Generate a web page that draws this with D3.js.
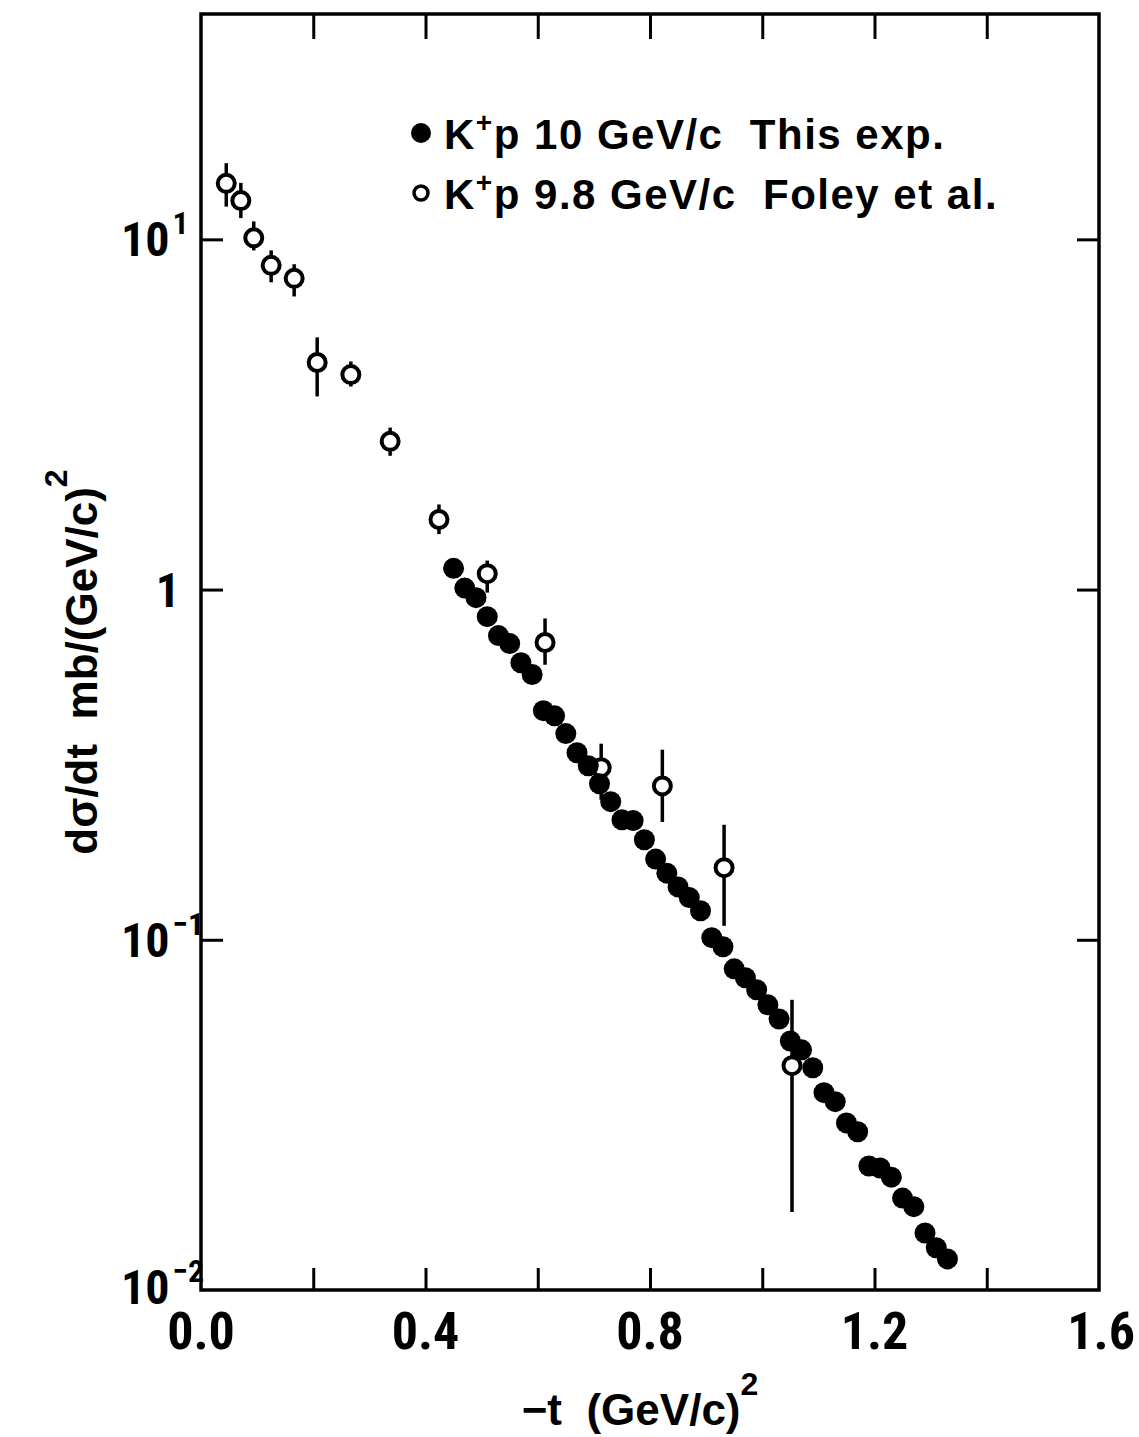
<!DOCTYPE html>
<html><head><meta charset="utf-8">
<script src="https://cdn.jsdelivr.net/npm/d3@7"></script>
<style>
html,body{margin:0;padding:0;background:#fff;}
svg{display:block;}
text{fill:#000;white-space:pre;}
</style></head>
<body>
<svg id="chart" width="1139" height="1437"></svg>
<script>
// Filled points: K+p 10 GeV/c (This exp.)
const thisT = [0.45,0.47,0.49,0.51,0.53,0.55,0.57,0.59,0.61,0.63,0.65,0.67,0.69,0.71,0.73,0.75,0.77,0.79,0.81,0.83,0.85,0.87,0.89,0.91,0.93,0.95,0.97,0.99,1.01,1.03,1.05,1.07,1.09,1.11,1.13,1.15,1.17,1.19,1.21,1.23,1.25,1.27,1.29,1.31,1.33];
const thisV = [1.15,1.01,0.948,0.837,0.739,0.701,0.618,0.572,0.451,0.436,0.388,0.342,0.314,0.279,0.248,0.220,0.219,0.193,0.170,0.155,0.1416,0.132,0.121,0.1014,0.0955,0.0826,0.0779,0.0720,0.0652,0.0594,0.0514,0.0485,0.0431,0.0366,0.0345,0.0300,0.0283,0.0226,0.0223,0.0210,0.0183,0.0173,0.01455,0.0132,0.01227];
// Open points: K+p 9.8 GeV/c (Foley et al.)
const foleyT  = [0.045,0.071,0.094,0.125,0.166,0.207,0.267,0.337,0.424,0.51,0.613,0.713,0.822,0.932,1.053];
const foleyV  = [14.45,12.9,10.1,8.43,7.74,4.45,4.11,2.65,1.585,1.11,0.706,0.31,0.275,0.1607,0.0437];
const foleyHi = [16.5,14.5,11.25,9.3,8.49,5.25,4.48,2.90,1.75,1.21,0.827,0.363,0.349,0.213,0.0674];
const foleyLo = [12.4,11.5,9.3,7.54,6.87,3.56,3.80,2.41,1.44,0.98,0.61,0.251,0.217,0.1096,0.0167];

const xTicks = [0.2,0.4,0.6,0.8,1.0,1.2,1.4];
const xLabels = [0.0,0.4,0.8,1.2,1.6];
const yTicks = [10,1,0.1];
const yLabels = [{v:10,base:"10",exp:"1"},{v:1,base:"1",exp:""},{v:0.1,base:"10",exp:"−1"},{v:0.01,base:"10",exp:"−2"}];
const legendItems = [{filled:true,label:"p 10 GeV/c  This exp."},{filled:false,label:"p 9.8 GeV/c  Foley et al."}];

const svg = d3.select("#chart");
const L=201,R=1099,T=14,B=1290;
const x = d3.scaleLinear().domain([0,1.6]).range([L,R]);
const y = d3.scaleLog().domain([0.01,44]).range([B,T]);
const numFont = "'Liberation Sans Narrow','Arial Narrow','Roboto Condensed',sans-serif";
const txtFont = "'Liberation Sans','Arial',sans-serif";

// frame
svg.append("rect").attr("x",L).attr("y",T).attr("width",R-L).attr("height",B-T)
  .attr("fill","none").attr("stroke","#000").attr("stroke-width",3.5);

// ticks using d3 axes (inward)
const axB = d3.axisBottom(x).tickValues(xTicks).tickSizeInner(-22).tickSizeOuter(0).tickFormat("");
const axT = d3.axisTop(x).tickValues(xTicks).tickSizeInner(-25).tickSizeOuter(0).tickFormat("");
const axL = d3.axisLeft(y).tickValues(yTicks).tickSizeInner(-22).tickSizeOuter(0).tickFormat("");
const axR = d3.axisRight(y).tickValues(yTicks).tickSizeInner(-22).tickSizeOuter(0).tickFormat("");
[[axB,`translate(0,${B})`],[axT,`translate(0,${T})`],[axL,`translate(${L},0)`],[axR,`translate(${R},0)`]].forEach(([a,tr])=>{
  const g = svg.append("g").attr("transform",tr).call(a);
  g.select(".domain").remove();
  g.selectAll("line").attr("stroke","#000").attr("stroke-width",3);
});

// x tick labels
svg.append("g").selectAll("text").data(xLabels).join("text")
  .attr("x",d=>d===1.6? 1135 : x(d)).attr("y",1349)
  .attr("text-anchor",d=>d===1.6?"end":"middle").attr("font-family",numFont).attr("font-weight","bold").attr("font-size",52)
  .text(d=>d.toFixed(1));

// y tick labels
const yl = svg.append("g").selectAll("text").data(yLabels).join("text")
  .attr("x",d=>d.exp? 121 : 180).attr("y",d=>y(d.v)+(d.v===0.01?14:17))
  .attr("text-anchor",d=>d.exp?"start":"end")
  .attr("font-family",numFont).attr("font-weight","bold").attr("font-size",48);
yl.append("tspan").text(d=>d.base);
yl.append("tspan").attr("dy",-22).attr("dx",3).attr("font-size",32).text(d=>d.exp);

// error bars for Foley
const foley = foleyT.map((t,i)=>({t,v:foleyV[i],hi:foleyHi[i],lo:foleyLo[i]}));
svg.append("g").selectAll("line").data(foley).join("line")
  .attr("x1",d=>x(d.t)).attr("x2",d=>x(d.t))
  .attr("y1",d=>y(d.hi)).attr("y2",d=>y(d.lo))
  .attr("stroke","#000").attr("stroke-width",3.5);
svg.append("g").selectAll("circle").data(foley).join("circle")
  .attr("cx",d=>x(d.t)).attr("cy",d=>y(d.v)).attr("r",8.5)
  .attr("fill","#fff").attr("stroke","#000").attr("stroke-width",4);

// filled points
const mine = thisT.map((t,i)=>({t,v:thisV[i]}));
svg.append("g").selectAll("circle").data(mine).join("circle")
  .attr("cx",d=>x(d.t)).attr("cy",d=>y(d.v)).attr("r",10.5).attr("fill","#000");

// legend
const lg = svg.append("g");
legendItems.forEach((it,i)=>{
  const cy = 133 + i*60;
  lg.append("circle").attr("cx",421).attr("cy",cy).attr("r",it.filled?10:7)
    .attr("fill",it.filled?"#000":"#fff").attr("stroke","#000").attr("stroke-width",it.filled?0:3.5);
  const t = lg.append("text").attr("x",444).attr("y",cy+16).attr("font-family",txtFont)
    .attr("font-weight","bold").attr("font-size",42).attr("letter-spacing",1.5);
  t.append("tspan").text("K");
  t.append("tspan").attr("dy",-17).attr("font-size",28).text("+");
  t.append("tspan").attr("dy",17).text(it.label);
});

// axis titles
const xt = svg.append("text").attr("x",640).attr("y",1425).attr("text-anchor","middle")
  .attr("font-family",txtFont).attr("font-weight","bold").attr("font-size",44);
xt.append("tspan").text("−t  (GeV/c)");
xt.append("tspan").attr("dy",-30).attr("font-size",32).text("2");

const ytt = svg.append("text").attr("transform","translate(97,662) rotate(-90)").attr("text-anchor","middle")
  .attr("font-family",txtFont).attr("font-weight","bold").attr("font-size",44);
ytt.append("tspan").text("dσ/dt  mb/(GeV/c)");
ytt.append("tspan").attr("dy",-30).attr("font-size",32).text("2");
</script>
</body></html>
